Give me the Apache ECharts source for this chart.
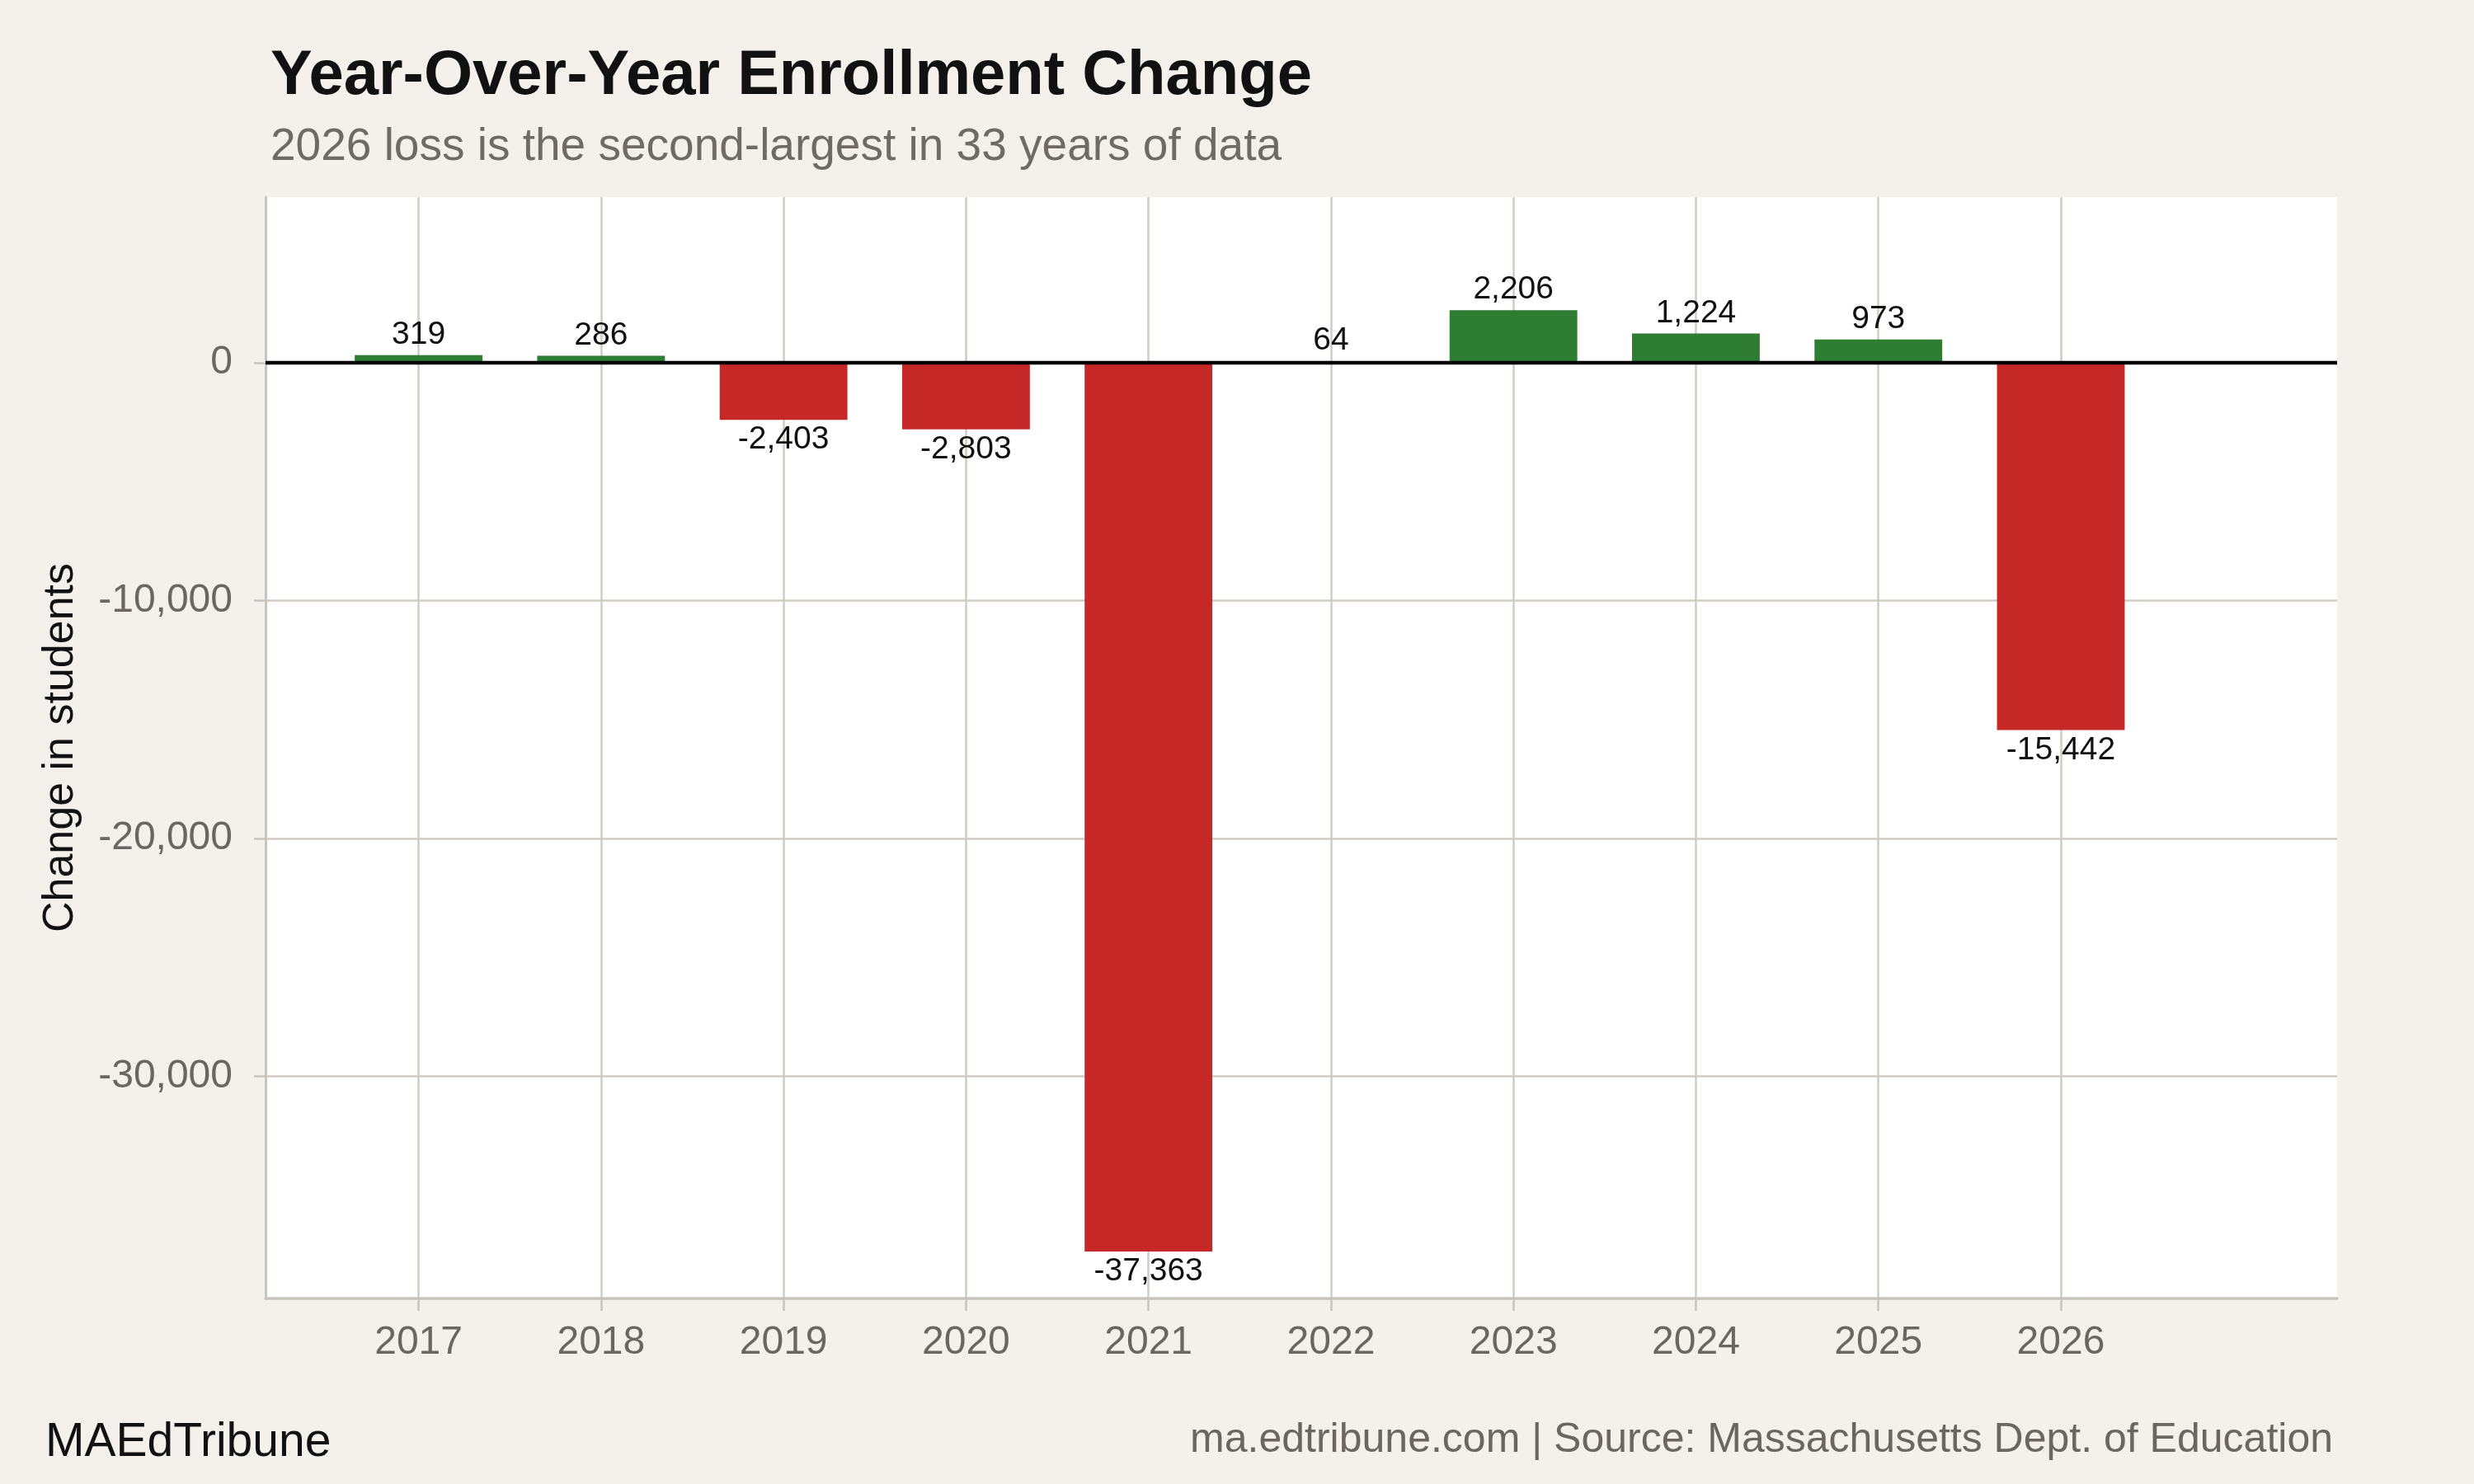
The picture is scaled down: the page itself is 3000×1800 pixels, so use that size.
<!DOCTYPE html>
<html><head><meta charset="utf-8">
<script src="https://cdn.jsdelivr.net/npm/echarts@6/dist/echarts.min.js"></script>
<style>html,body{margin:0;padding:0;background:#F4F1EC}#c{width:3000px;height:1800px}</style>
</head><body><div id="c"></div>
<script>
const years = ['2017','2018','2019','2020','2021','2022','2023','2024','2025','2026'];
const changes = [319, 286, -2403, -2803, -37363, 64, 2206, 1224, 973, -15442];
const yMin = -39340;
const yMax = 6960;
const titleText = 'Year-Over-Year Enrollment Change';
const subtitleText = '2026 loss is the second-largest in 33 years of data';
const yAxisName = 'Change in students';
const brandText = 'MAEdTribune';
const sourceText = 'ma.edtribune.com | Source: Massachusetts Dept. of Education';

const FONT = '"Liberation Sans", Arial, Helvetica, sans-serif';
const GREEN = '#2E7D32', RED = '#C62828';
const GRID = '#D0CBC3', AXIS = '#C9C4BC', TICKTXT = '#6B6760';
const fmt = v => Number(v).toLocaleString('en-US');

const chart = echarts.init(document.getElementById('c'), null, {renderer: 'canvas'});
const barData = changes.map(v => ({
  value: v,
  itemStyle: {color: v >= 0 ? GREEN : RED},
  label: {position: v >= 0 ? 'top' : 'bottom'}
}));

chart.setOption({
  backgroundColor: '#F4F1EC',
  animation: false,
  textStyle: {fontFamily: FONT},
  title: [
    {text: titleText, left: 323, top: 50, textStyle: {fontFamily: FONT, fontSize: 76, fontWeight: 'bold', color: '#111'}},
    {text: subtitleText, left: 323, top: 146, textStyle: {fontFamily: FONT, fontSize: 55, fontWeight: 'normal', color: '#6F6B64'}},
    {text: brandText, left: 50, top: 1717, textStyle: {fontFamily: FONT, fontSize: 57, fontWeight: 'normal', color: '#111'}},
    {text: sourceText, right: 166, top: 1717, textStyle: {fontFamily: FONT, fontSize: 50, fontWeight: 'normal', color: TICKTXT}}
  ],
  grid: [
    {left: 322, right: 166, top: 239, bottom: 225, show: true, backgroundColor: '#FFFFFF', borderWidth: 0},
    {left: 507.6, right: 501, top: 239, bottom: 225}
  ],
  xAxis: [
    {gridIndex: 0, type: 'value', min: 0, max: 1,
      axisLine: {show: true, onZero: false, lineStyle: {color: AXIS, width: 3.5}},
      axisTick: {show: false}, axisLabel: {show: false}, splitLine: {show: false}},
    {gridIndex: 1, type: 'category', data: years, boundaryGap: false,
      axisLine: {show: false, onZero: false},
      axisTick: {show: true, length: 15, lineStyle: {color: AXIS, width: 2.5}},
      axisLabel: {show: true, interval: 0, margin: 30, fontFamily: FONT, fontSize: 48, color: TICKTXT},
      splitLine: {show: true, lineStyle: {color: GRID, width: 2.5}}}
  ],
  yAxis: [
    {gridIndex: 0, type: 'value', min: yMin, max: yMax, splitNumber: 5,
      name: yAxisName, nameLocation: 'middle', nameGap: 222, nameRotate: 90,
      nameTextStyle: {fontFamily: FONT, fontSize: 52, color: '#111'},
      axisLine: {show: true, lineStyle: {color: AXIS, width: 3}},
      axisTick: {show: true, length: 14, lineStyle: {color: AXIS, width: 2.5}},
      axisLabel: {show: true, margin: 40, fontFamily: FONT, fontSize: 48, color: TICKTXT,
        showMinLabel: false, showMaxLabel: false, formatter: v => fmt(v)},
      splitLine: {show: true, showMinLine: false, showMaxLine: false, lineStyle: {color: GRID, width: 2.5}}},
    {gridIndex: 1, type: 'value', min: yMin, max: yMax, show: false, splitLine: {show: false}}
  ],
  series: [
    {type: 'line', xAxisIndex: 0, yAxisIndex: 0, data: [], silent: true,
      markLine: {silent: true, symbol: 'none', z: 10, label: {show: false},
        lineStyle: {color: '#000', width: 4.3, type: 'solid'},
        data: [{yAxis: 0}]}},
    {type: 'bar', xAxisIndex: 1, yAxisIndex: 1, data: barData, barWidth: '70%', clip: false, z: 3,
      label: {show: true, distance: 5, fontFamily: FONT, fontSize: 39, color: '#111',
        formatter: p => fmt(p.value)}}
  ]
});
</script></body></html>
